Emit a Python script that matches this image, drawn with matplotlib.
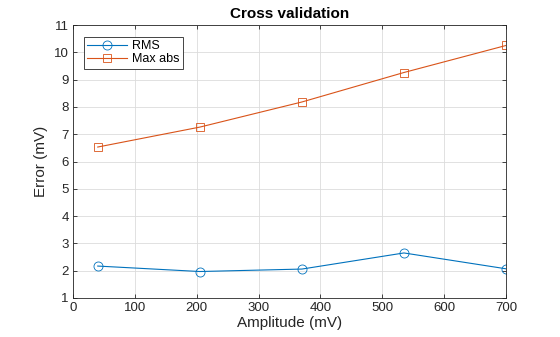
import matplotlib
matplotlib.use("Agg")
import matplotlib.pyplot as plt

plt.rcParams['font.family'] = ['Liberation Sans', 'DejaVu Sans']

# data
amplitude = [40, 205, 370, 535, 700]
rms = [2.17, 1.97, 2.06, 2.65, 2.07]
max_abs = [6.53, 7.26, 8.18, 9.26, 10.25]

blue = '#0072BD'
orange = '#D95319'

fig = plt.figure(figsize=(5.6, 3.37), dpi=100)
ax = fig.add_axes([73/560, 1 - 298/337, (506-73)/560, (298-25)/337])

ax.plot(amplitude, rms, color=blue, linewidth=0.8, marker='o', markersize=6.5,
        markerfacecolor='none', markeredgewidth=0.6, label='RMS')
ax.plot(amplitude, max_abs, color=orange, linewidth=0.8, marker='s', markersize=6,
        markerfacecolor='none', markeredgewidth=0.6, label='Max abs')

ax.set_xlim(0, 700)
ax.set_ylim(1, 11)
ax.set_xticks(range(0, 701, 100))
ax.set_yticks(range(1, 12))
ax.grid(True, color='#dcdcdc', linewidth=0.6)
ax.set_axisbelow(True)
ax.tick_params(direction='in', length=3, labelsize=9.5, colors='#262626', width=0.6,
               top=True, right=True, pad=3)
for s in ax.spines.values():
    s.set_linewidth(0.6)
    s.set_color('#262626')

ax.set_xlabel('Amplitude (mV)', fontsize=11, color='#262626', labelpad=1)
ax.set_ylabel('Error (mV)', fontsize=11, color='#262626', labelpad=4)
ax.set_title('Cross validation', fontsize=11, fontweight='bold', pad=5, color='#000000')

leg = ax.legend(loc='upper left', bbox_to_anchor=(0.025, 0.956), fontsize=9,
                fancybox=False, edgecolor='#262626', framealpha=1,
                handlelength=3.2, handletextpad=0.4, borderpad=0.25,
                labelspacing=0.1, borderaxespad=0)
leg.get_frame().set_linewidth(0.6)

fig.savefig('out.png', dpi=100)
